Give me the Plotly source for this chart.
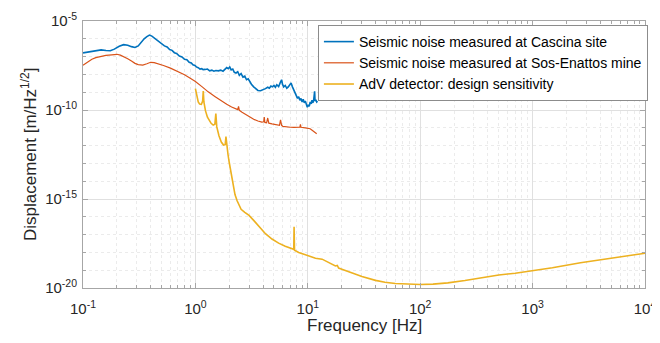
import plotly.graph_objects as go

# ---------------- data (log10 of displacement) ----------------
cascina_f = [0.10, 0.115, 0.13, 0.145, 0.16, 0.175, 0.19, 0.21, 0.23, 0.25, 0.27, 0.29, 0.31, 0.33, 0.35,
             0.37, 0.39, 0.41, 0.44, 0.48, 0.51, 0.53, 0.56, 0.59, 0.62, 0.65, 0.68, 0.72, 0.76, 0.80, 0.84,
             0.88, 0.92, 0.95, 0.99, 1.02, 1.06, 1.10, 1.14, 1.17, 1.22, 1.28, 1.34, 1.40, 1.46, 1.52, 1.60,
             1.68, 1.76, 1.84, 1.90, 1.96, 2.02, 2.08, 2.15, 2.22, 2.30, 2.38, 2.46, 2.55, 2.65, 2.75, 2.85,
             2.95, 3.05, 3.15, 3.30, 3.45, 3.60, 3.80, 4.00, 4.20, 4.40, 4.55, 4.70, 4.85, 5.00, 5.15, 5.30,
             5.50, 5.70, 5.85, 5.95, 6.10, 6.30, 6.50, 6.70, 6.90, 7.10, 7.30, 7.50, 7.70, 7.90, 8.10, 8.30,
             8.50, 8.70, 8.90, 9.10, 9.30, 9.50, 9.70, 9.90, 10.1, 10.3, 10.5, 10.7, 10.9, 11.1, 11.3, 11.5,
             11.6, 11.8, 12.0, 12.2]
cascina_log = [-6.79, -6.72, -6.64, -6.62, -6.66, -6.67, -6.58, -6.42, -6.33, -6.36, -6.44, -6.49, -6.40, -6.18, -6.00,
               -5.88, -5.79, -5.85, -6.00, -6.22, -6.30, -6.40, -6.46, -6.60, -6.65, -6.78, -6.82, -6.97, -7.02, -7.15, -7.18,
               -7.32, -7.36, -7.46, -7.50, -7.58, -7.62, -7.70, -7.68, -7.73, -7.72, -7.70, -7.80, -7.76, -7.82, -7.78, -7.80,
               -7.76, -7.82, -7.72, -7.62, -7.68, -7.58, -7.75, -7.70, -7.88, -7.92, -7.85, -8.05, -7.95, -8.15, -8.10, -8.30,
               -8.25, -8.45, -8.55, -8.70, -8.80, -8.90, -8.92, -8.88, -8.80, -8.72, -8.78, -8.65, -8.70, -8.62, -8.72, -8.58,
               -8.68, -8.45, -8.30, -8.55, -8.70, -8.62, -8.78, -8.70, -8.60, -8.48, -8.70, -8.85, -9.05, -9.20, -9.35, -9.25,
               -9.45, -9.35, -9.55, -9.40, -9.60, -9.50, -9.75, -9.85, -9.70, -9.80, -9.55, -9.65, -9.45, -9.60, -9.40, -8.95,
               -9.50, -9.42, -9.55, -9.50]

sos_f = [0.10, 0.11, 0.12, 0.13, 0.145, 0.16, 0.18, 0.20, 0.215, 0.23, 0.25, 0.27, 0.29, 0.31, 0.34, 0.37,
         0.40, 0.43, 0.47, 0.52, 0.60, 0.70, 0.80, 0.90, 1.0, 1.15, 1.3, 1.5, 1.7, 1.9, 2.1, 2.3, 2.38, 2.42,
         2.46, 2.6, 2.8, 3.0, 3.3, 3.6, 3.9, 4.05, 4.1, 4.15, 4.3, 4.4, 4.5, 4.8, 5.2, 5.6, 5.72, 5.85, 6.0,
         6.5, 7.0, 7.5, 8.0, 8.5, 8.6, 8.7, 9.5, 10.5, 11.0, 11.5, 12.0]
sos_log = [-7.48, -7.30, -7.15, -7.06, -6.98, -6.93, -6.90, -6.87, -6.92, -7.00, -7.12, -7.25, -7.38, -7.45, -7.48, -7.40,
           -7.32, -7.34, -7.40, -7.50, -7.65, -7.83, -8.02, -8.22, -8.40, -8.70, -8.98, -9.25, -9.50, -9.68, -9.83, -9.97, -9.98, -9.80,
           -10.02, -10.12, -10.25, -10.38, -10.52, -10.62, -10.68, -10.66, -10.40, -10.70, -10.72, -10.45, -10.74, -10.78, -10.82, -10.86, -10.55, -10.86, -10.92,
           -10.96, -10.97, -10.98, -10.98, -10.97, -10.80, -10.97, -11.00, -11.05, -11.15, -11.25, -11.33]

adv_f = [1.00, 1.03, 1.06, 1.09, 1.13, 1.16, 1.175, 1.19, 1.23, 1.28, 1.33, 1.38, 1.44, 1.49, 1.52, 1.55,
         1.62, 1.70, 1.78, 1.84, 1.87, 1.90, 1.95, 2.00, 2.07, 2.15, 2.25, 2.35, 2.45, 2.55, 2.75, 3.0, 3.3,
         3.7, 4.2, 4.8, 5.5, 6.3, 7.0, 7.5, 7.55, 7.62, 8.3, 9.0, 10.2, 11.7, 13.4, 15.0, 16.9, 17.6, 18.3,
         18.8, 20.1, 25, 30.3, 40, 48.6, 60, 78, 100, 130, 176, 250, 348, 500, 700, 966, 1500, 2668, 5000, 10000]
adv_log = [-8.80, -9.25, -9.55, -9.66, -9.68, -9.50, -8.93, -9.55, -10.05, -10.40, -10.62, -10.75, -10.85, -10.80, -10.20, -10.95,
           -11.45, -11.80, -11.97, -11.95, -11.50, -12.05, -12.50, -12.95, -13.55, -14.20, -14.75, -15.10, -15.40, -15.58, -15.75, -15.92, -16.20,
           -16.58, -16.95, -17.25, -17.48, -17.65, -17.76, -17.83, -16.56, -17.88, -18.00, -18.08, -18.20, -18.33, -18.38, -18.55, -18.74, -18.76, -18.73,
           -18.88, -18.95, -19.17, -19.36, -19.57, -19.68, -19.75, -19.79, -19.80, -19.78, -19.71, -19.58, -19.43, -19.27, -19.17, -19.04, -18.86, -18.58, -18.32, -18.05]

series_names = ["Seismic noise measured at Cascina site",
                "Seismic noise measured at Sos-Enattos mine",
                "AdV detector: design sensitivity"]

x_title = "Frequency [Hz]"
y_title = "Displacement [m/Hz<sup>1/2</sup>]"

x_tick_vals = [0.1, 1, 10, 100, 1000, 10000]
x_tick_text = ["10<sup>-1</sup>", "10<sup>0</sup>", "10<sup>1</sup>", "10<sup>2</sup>", "10<sup>3</sup>", "10<sup>4</sup>"]
y_tick_vals = [1e-20, 1e-15, 1e-10, 1e-5]
y_tick_text = ["10<sup>-20</sup>", "10<sup>-15</sup>", "10<sup>-10</sup>", "10<sup>-5</sup>"]

x_minor = [m * 10.0 ** e for e in range(-1, 4) for m in range(2, 10)]
y_minor = [10.0 ** e for e in range(-20, -4) if e % 5 != 0]

FONT = "Liberation Sans, Arial, Helvetica, sans-serif"
TXT = "#262626"

fig = go.Figure()
fig.add_trace(go.Scatter(x=cascina_f, y=[10 ** v for v in cascina_log], mode="lines",
                         name=series_names[0], line=dict(color="#0072BD", width=1.6)))
fig.add_trace(go.Scatter(x=sos_f, y=[10 ** v for v in sos_log], mode="lines",
                         name=series_names[1], line=dict(color="#D95319", width=1.2)))
fig.add_trace(go.Scatter(x=adv_f, y=[10 ** v for v in adv_log], mode="lines",
                         name=series_names[2], line=dict(color="#EDB120", width=1.6)))

axis_common = dict(
    showline=True, linecolor="#a6a6a6", linewidth=1, mirror="allticks",
    ticks="inside", ticklen=5, tickcolor="#a6a6a6",
    showgrid=True, gridcolor="#e0e0e0", gridwidth=1,
    tickfont=dict(family=FONT, size=15, color=TXT),
    zeroline=False, automargin=False,
)

fig.update_xaxes(type="log", range=[-1, 4], tickvals=x_tick_vals, ticktext=x_tick_text,
                 ticklabelstandoff=7,
                 minor=dict(tickvals=x_minor, showgrid=True, gridcolor="#ebebeb", griddash="dot",
                            ticks="inside", ticklen=3, tickcolor="#a6a6a6"),
                 **axis_common)
fig.update_yaxes(type="log", range=[-20, -5], tickvals=y_tick_vals, ticktext=y_tick_text,
                 ticklabelstandoff=2,
                 minor=dict(tickvals=y_minor, showgrid=True, gridcolor="#ebebeb", griddash="dot",
                            ticks="inside", ticklen=3, tickcolor="#a6a6a6"),
                 **axis_common)

# axis titles placed as annotations (plot area 565 x 267 px)
fig.add_annotation(text=x_title, xref="paper", yref="paper", x=0.5, y=-0.14,
                   xanchor="center", yanchor="middle", showarrow=False,
                   font=dict(family=FONT, size=17, color=TXT))
fig.add_annotation(text=y_title, xref="paper", yref="paper", x=-0.097, y=0.5,
                   xanchor="center", yanchor="middle", showarrow=False, textangle=-90,
                   font=dict(family=FONT, size=17, color=TXT))

# the page body adds an 8 px offset, so the figure is sized 8 px smaller
fig.update_layout(
    width=652, height=335,
    margin=dict(l=75, r=12, t=13, b=55),
    paper_bgcolor="white", plot_bgcolor="white",
    font=dict(family=FONT, color=TXT),
    legend=dict(x=0.418, y=0.985, xanchor="left", yanchor="top",
                bgcolor="white", bordercolor="#8c8c8c", borderwidth=1,
                font=dict(family=FONT, size=14, color="#000000"),
                tracegroupgap=0, itemwidth=30),
    showlegend=True,
)

fig.write_html("out.html")
